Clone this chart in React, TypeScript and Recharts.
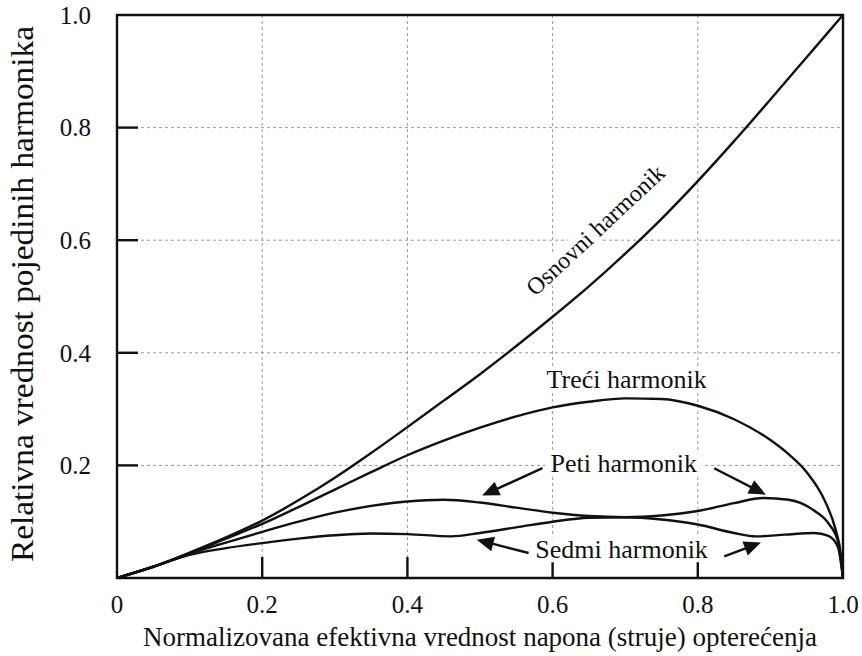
import React from 'react';
import {
  LineChart,
  Line,
  XAxis,
  YAxis,
  CartesianGrid,
  ReferenceLine,
  ReferenceArea,
  ReferenceDot,
} from 'recharts';

const FONT = "'Liberation Serif', 'DejaVu Serif', 'Times New Roman', serif";
const INK = '#111';

// Axis ticks
const xTicks = [0, 0.2, 0.4, 0.6, 0.8, 1.0];
const yTicks = [0.2, 0.4, 0.6, 0.8, 1.0];
const innerTicks = [0.2, 0.4, 0.6, 0.8];

// Osnovni harmonik
const osnovniX = [0, 0.05, 0.1, 0.15, 0.2, 0.25, 0.3, 0.35, 0.4, 0.45, 0.5, 0.55, 0.6, 0.65, 0.7, 0.75, 0.8, 0.85, 0.9, 0.95, 1.0];
const osnovniY = [0, 0.02, 0.045, 0.072, 0.102, 0.138, 0.178, 0.222, 0.268, 0.315, 0.362, 0.412, 0.464, 0.518, 0.576, 0.638, 0.705, 0.776, 0.85, 0.925, 1.0];

// Treći harmonik
const treciX = [0, 0.05, 0.1, 0.15, 0.2, 0.25, 0.3, 0.35, 0.4, 0.45, 0.5, 0.55, 0.6, 0.65, 0.7, 0.75, 0.8, 0.85, 0.9, 0.925, 0.95, 0.975, 0.99, 0.997, 1.0];
const treciY = [0, 0.02, 0.044, 0.07, 0.096, 0.126, 0.157, 0.188, 0.218, 0.244, 0.267, 0.287, 0.303, 0.313, 0.319, 0.318, 0.306, 0.282, 0.245, 0.22, 0.188, 0.137, 0.085, 0.042, 0];

// Peti harmonik
const petiX = [0, 0.05, 0.1, 0.15, 0.2, 0.25, 0.3, 0.35, 0.4, 0.45, 0.5, 0.55, 0.6, 0.65, 0.7, 0.75, 0.8, 0.85, 0.89, 0.925, 0.96, 0.98, 0.993, 1.0];
const petiY = [0, 0.02, 0.043, 0.063, 0.082, 0.1, 0.116, 0.128, 0.136, 0.139, 0.134, 0.125, 0.116, 0.11, 0.108, 0.111, 0.119, 0.133, 0.142, 0.139, 0.12, 0.097, 0.065, 0];

// Sedmi harmonik
const sedmiX = [0, 0.05, 0.1, 0.15, 0.2, 0.25, 0.3, 0.35, 0.4, 0.46, 0.5, 0.55, 0.6, 0.65, 0.7, 0.75, 0.8, 0.85, 0.88, 0.92, 0.96, 0.98, 0.993, 1.0];
const sedmiY = [0, 0.02, 0.041, 0.053, 0.062, 0.07, 0.076, 0.079, 0.078, 0.074, 0.08, 0.09, 0.1, 0.107, 0.108, 0.104, 0.095, 0.08, 0.074, 0.077, 0.08, 0.075, 0.055, 0];

// Annotation labels (data coordinates)
const labelTexts = ['Osnovni harmonik', 'Treći harmonik', 'Peti harmonik', 'Sedmi harmonik'];
const labelX = [0.659, 0.702, 0.698, 0.695];
const labelY = [0.618, 0.353, 0.203, 0.05];
const labelAngle = [-43, 0, 0, 0];

// Arrows: tail -> tip (data coordinates)
const arrowTailX = [0.586, 0.8225, 0.567, 0.8364];
const arrowTailY = [0.195, 0.195, 0.0444, 0.0383];
const arrowTipX = [0.503, 0.8938, 0.4954, 0.887];
const arrowTipY = [0.1465, 0.148, 0.068, 0.0632];

const zip = (xs: number[], ys: number[]) => xs.map((x, i) => ({ x, y: ys[i] }));

const series = [
  { name: 'Osnovni harmonik', data: zip(osnovniX, osnovniY) },
  { name: 'Treći harmonik', data: zip(treciX, treciY) },
  { name: 'Peti harmonik', data: zip(petiX, petiY) },
  { name: 'Sedmi harmonik', data: zip(sedmiX, sedmiY) },
];

const fmt = (v: number) => (v === 0 ? '0' : v.toFixed(1));

const ArrowShape = (p: any) => {
  const { x1, y1, x2, y2 } = p;
  const dx = x2 - x1;
  const dy = y2 - y1;
  const len = Math.hypot(dx, dy) || 1;
  const ux = dx / len;
  const uy = dy / len;
  const hl = 17;
  const hw = 7.5;
  const bx = x2 - ux * hl;
  const by = y2 - uy * hl;
  const px = -uy;
  const py = ux;
  return (
    <g>
      <line x1={x1} y1={y1} x2={bx + ux * 2} y2={by + uy * 2} stroke={INK} strokeWidth={2.4} />
      <polygon
        points={`${x2},${y2} ${bx + px * hw},${by + py * hw} ${bx - px * hw},${by - py * hw}`}
        fill={INK}
      />
    </g>
  );
};

const XTickMark = (p: any) => {
  const { x1, y1, y2 } = p;
  const yb = Math.max(y1, y2);
  return <line x1={x1} x2={x1} y1={yb} y2={yb - 21} stroke={INK} strokeWidth={2.4} />;
};

const YTickMark = (p: any) => {
  const { x1, x2, y1 } = p;
  const xl = Math.min(x1, x2);
  return <line x1={xl} x2={xl + 21} y1={y1} y2={y1} stroke={INK} strokeWidth={2.4} />;
};

const makeLabelShape = (text: string, angle: number) => (p: any) => {
  const { cx, cy } = p;
  const size = angle !== 0 ? 24 : 26;
  const w = text.length * size * 0.44 + 8;
  const h = size * 0.95;
  return (
    <g transform={`translate(${cx},${cy}) rotate(${angle})`}>
      <rect x={-w / 2} y={-h / 2} width={w} height={h} fill="#fff" />
      <text
        x={0}
        y={0}
        textAnchor="middle"
        dominantBaseline="central"
        style={{ fontFamily: FONT, fontSize: size }}
        fill={INK}
      >
        {text}
      </text>
    </g>
  );
};

const tickStyle = { fontFamily: FONT, fontSize: 25, fill: INK, style: { fontFamily: FONT, fontSize: 25 } };

export default function App() {
  return (
    <div style={{ position: 'absolute', left: 0, top: 0, width: 862, height: 656, background: '#fff', fontFamily: FONT }}>
      <LineChart
        width={862}
        height={656}
        margin={{ top: 15, right: 19, bottom: 18, left: 17 }}
        style={{ fontFamily: FONT }}
      >
        <CartesianGrid
          stroke="#9a9a9a"
          strokeDasharray="3 3"
          strokeWidth={1}
          horizontalValues={innerTicks}
          verticalValues={innerTicks}
        />
        <XAxis
          type="number"
          dataKey="x"
          domain={[0, 1]}
          ticks={xTicks}
          tickFormatter={fmt}
          allowDataOverflow
          axisLine={false}
          tickLine={false}
          tickSize={0}
          tickMargin={17}
          height={60}
          tick={tickStyle}
        />
        <YAxis
          type="number"
          dataKey="y"
          domain={[0, 1]}
          ticks={yTicks}
          tickFormatter={fmt}
          allowDataOverflow
          axisLine={false}
          tickLine={false}
          tickSize={0}
          tickMargin={26}
          width={100}
          tick={tickStyle}
        />
        {series.map((s) => (
          <Line
            key={s.name}
            data={s.data}
            dataKey="y"
            name={s.name}
            type="monotone"
            stroke={INK}
            strokeWidth={2.4}
            dot={false}
            activeDot={false}
            isAnimationActive={false}
          />
        ))}
        {innerTicks.map((v) => (
          <ReferenceLine key={'xt' + v} x={v} shape={XTickMark} />
        ))}
        {innerTicks.map((v) => (
          <ReferenceLine key={'yt' + v} y={v} shape={YTickMark} />
        ))}
        <ReferenceArea x1={0} x2={1} y1={0} y2={1} fill="none" fillOpacity={0} stroke={INK} strokeWidth={2.4} />
        {labelTexts.map((t, i) => (
          <ReferenceDot
            key={'lbl' + i}
            x={labelX[i]}
            y={labelY[i]}
            r={0}
            shape={makeLabelShape(t, labelAngle[i])}
          />
        ))}
        {arrowTailX.map((_, i) => (
          <ReferenceLine
            key={'arr' + i}
            segment={[
              { x: arrowTailX[i], y: arrowTailY[i] },
              { x: arrowTipX[i], y: arrowTipY[i] },
            ]}
            shape={ArrowShape}
          />
        ))}
        <text
          x={480}
          y={637}
          textAnchor="middle"
          dominantBaseline="central"
          style={{ fontFamily: FONT, fontSize: 27 }}
          fill={INK}
        >
          Normalizovana efektivna vrednost napona (struje) opterećenja
        </text>
        <text
          transform="translate(22,294) rotate(-90)"
          textAnchor="middle"
          dominantBaseline="central"
          textLength={536}
          lengthAdjust="spacingAndGlyphs"
          style={{ fontFamily: FONT, fontSize: 31 }}
          fill={INK}
        >
          Relativna vrednost pojedinih harmonika
        </text>
      </LineChart>
    </div>
  );
}
